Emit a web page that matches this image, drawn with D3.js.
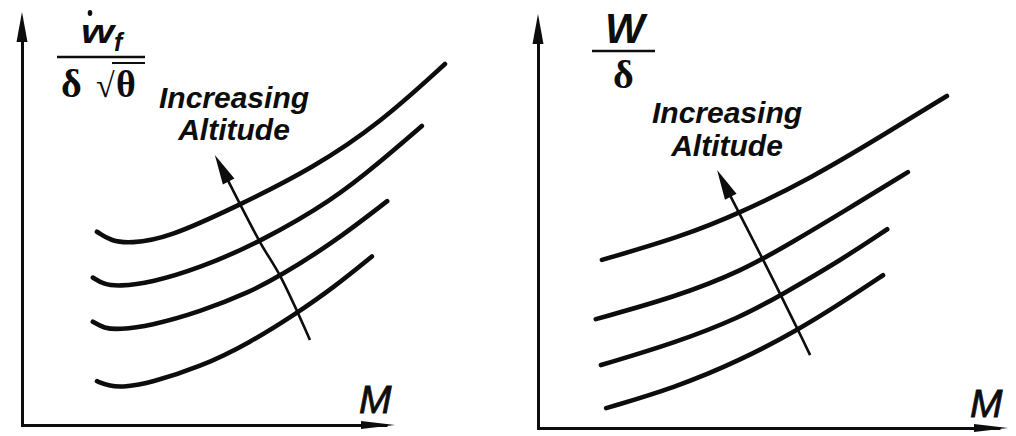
<!DOCTYPE html>
<html><head><meta charset="utf-8">
<script src="https://cdn.jsdelivr.net/npm/d3@7/dist/d3.min.js"></script>
<style>body{margin:0;background:#fff}svg{display:block}</style>
</head><body>
<svg id="c" width="1016" height="436"></svg>
<script>
// ---- data (abstract units: M along x, normalised parameter along y) ----
// Left panel: corrected fuel flow vs Mach, four altitudes (lowest first)
const fuelAlt1 = [[2.01,1.06],[2.35,0.94],[2.75,0.92],[3.43,1.02],[4.77,1.40],[6.11,1.99],[7.37,2.71],[8.34,3.32],[9.38,4.08]];
const fuelAlt2 = [[1.90,2.50],[2.20,2.34],[2.60,2.31],[3.43,2.40],[4.77,2.74],[6.11,3.22],[6.92,3.61],[8.34,4.41],[9.79,5.42]];
const fuelAlt3 = [[1.90,3.57],[2.20,3.40],[2.60,3.36],[3.43,3.44],[4.77,3.80],[6.38,4.43],[8.34,5.45],[9.60,6.37],[10.72,7.24]];
const fuelAlt4 = [[2.01,4.68],[2.40,4.45],[2.90,4.40],[3.89,4.52],[5.84,5.33],[7.80,6.22],[9.60,7.31],[11.34,8.74]];
const fuelArrow = [[7.72,2.06],[6.92,3.61],[6.38,4.43],[5.17,6.54]];
// Right panel: corrected weight vs Mach, four altitudes (lowest first)
const weightAlt1 = [[1.45,0.48],[2.91,0.97],[4.32,1.64],[5.53,2.37],[6.45,3.02],[7.34,3.69]];
const weightAlt2 = [[1.34,1.52],[2.91,2.05],[4.32,2.68],[5.17,3.21],[6.45,4.06],[7.43,4.80]];
const weightAlt3 = [[1.23,2.63],[2.91,3.16],[4.32,3.78],[5.40,4.48],[6.49,5.22],[7.87,6.18]];
const weightAlt4 = [[1.36,4.06],[3.02,4.61],[4.30,5.19],[5.85,6.06],[7.28,7.03],[8.70,8.02]];
const weightArrow = [[5.79,1.76],[5.53,2.37],[4.79,4.06],[3.81,6.23]];
const annotation = ["Increasing", "Altitude"];
const xLabel = "M";

// ---- drawing ----
const svg = d3.select("#c");
svg.append("rect").attr("width",1016).attr("height",436).attr("fill","#fff");
const ink = "#0d0d0d";

const panels = [
  {x: d3.scaleLinear().domain([0,12]).range([22, 22+12*37.3]),
   y: d3.scaleLinear().domain([0,10]).range([425, 12]),
   axisEnd: 10, curves:[fuelAlt1,fuelAlt2,fuelAlt3,fuelAlt4], arrow: fuelArrow,
   textX: 234, textY: [108,140], mPos:[359,413]},
  {x: d3.scaleLinear().domain([0,10]).range([538, 1008]),
   y: d3.scaleLinear().domain([0,10]).range([428, 14]),
   axisEnd: 10, curves:[weightAlt1,weightAlt2,weightAlt3,weightAlt4], arrow: weightArrow,
   textX: 727, textY: [123,156], mPos:[970,417]}
];

function tri(g, tip, ang, len, w){
  const bx = tip[0] - Math.cos(ang)*len, by = tip[1] - Math.sin(ang)*len;
  const px = -Math.sin(ang)*w/2, py = Math.cos(ang)*w/2;
  g.append("path").attr("d", `M${tip[0]},${tip[1]}L${bx+px},${by+py}L${bx-px},${by-py}Z`).attr("fill", ink);
}

panels.forEach(p => {
  const g = svg.append("g");
  const x0 = p.x(0), y0 = p.y(0), xEnd = p.x(p.axisEnd), yEnd = p.y(10);
  // axes via d3 axis generators (no ticks)
  const ax = p.x.copy().domain([0, p.axisEnd*0.97]).range([x0-1.5, xEnd-8]);
  const ay = p.y.copy().domain([0, 9.7]).range([y0+1.5, yEnd+12]);
  g.append("g").attr("transform",`translate(0,${y0})`)
    .call(d3.axisBottom(ax).tickValues([]).tickSizeOuter(0))
    .select(".domain").attr("stroke",ink).attr("stroke-width",3);
  g.append("g").attr("transform",`translate(${x0},0)`)
    .call(d3.axisLeft(ay).tickValues([]).tickSizeOuter(0))
    .select(".domain").attr("stroke",ink).attr("stroke-width",3);
  tri(g, [xEnd, y0], 0, 34, 8);
  tri(g, [x0, yEnd], -Math.PI/2, 30, 11);

  const line = d3.line().x(d=>p.x(d[0])).y(d=>p.y(d[1])).curve(d3.curveBasis);
  g.selectAll("path.curve").data(p.curves).join("path").attr("class","curve")
    .attr("d", line).attr("fill","none").attr("stroke",ink)
    .attr("stroke-width",4.6).attr("stroke-linecap","round");

  // altitude arrow
  const a = p.arrow, n = a.length;
  const tip = [p.x(a[n-1][0]), p.y(a[n-1][1])];
  const prev = [p.x(a[n-2][0]), p.y(a[n-2][1])];
  const ang = Math.atan2(tip[1]-prev[1], tip[0]-prev[0]);
  const aline = d3.line().x(d=>p.x(d[0])).y(d=>p.y(d[1])).curve(d3.curveCatmullRom.alpha(0.5));
  const shortened = a.slice(0, n-1).concat([[p.x.invert(tip[0]-Math.cos(ang)*20), p.y.invert(tip[1]-Math.sin(ang)*20)]]);
  g.append("path").attr("d", aline(shortened)).attr("fill","none").attr("stroke",ink).attr("stroke-width",2.6);
  tri(g, tip, ang, 30, 13);

  // annotation
  annotation.forEach((t,i)=>{
    g.append("text").attr("x",p.textX).attr("y",p.textY[i]).attr("text-anchor","middle")
     .attr("font-family","Liberation Sans, Arial, sans-serif").attr("font-style","italic")
     .attr("font-weight","bold").attr("font-size",30).attr("fill",ink).text(t);
  });
  g.append("text").attr("x",p.mPos[0]).attr("y",p.mPos[1])
   .attr("font-family","Liberation Sans, Arial, sans-serif").attr("font-style","italic")
   .attr("font-size",39).attr("stroke",ink).attr("stroke-width",0.8).attr("fill",ink).text(xLabel);
});

// ---- y-axis labels (fractions) ----
const sans = "Liberation Sans, Arial, sans-serif", serif = "Liberation Serif, Times New Roman, serif";
// left: w-dot sub f over delta sqrt theta
svg.append("text").attr("x",81).attr("y",43).attr("font-family",sans).attr("font-style","italic")
  .attr("font-weight","bold").attr("font-size",33).attr("textLength",33).attr("lengthAdjust","spacingAndGlyphs")
  .attr("fill",ink).text("w");
svg.append("ellipse").attr("cx",90).attr("cy",13).attr("rx",2.3).attr("ry",3).attr("fill",ink);
svg.append("text").attr("x",114).attr("y",51).attr("font-family",sans).attr("font-style","italic")
  .attr("font-weight","bold").attr("font-size",25).attr("fill",ink).text("f");
svg.append("line").attr("x1",57).attr("x2",145).attr("y1",57).attr("y2",57).attr("stroke",ink).attr("stroke-width",2.5);
svg.append("text").attr("x",61).attr("y",97).attr("font-family",serif).attr("font-weight","bold")
  .attr("font-size",40).attr("fill",ink).text("δ");
svg.append("text").attr("x",96).attr("y",97).attr("font-family",serif)
  .attr("font-size",34).attr("fill",ink).text("√");
svg.append("text").attr("x",116).attr("y",97).attr("font-family",serif).attr("font-weight","bold")
  .attr("font-size",38).attr("fill",ink).text("θ");
svg.append("line").attr("x1",112).attr("x2",145).attr("y1",63).attr("y2",63).attr("stroke",ink).attr("stroke-width",2);
// right: W over delta
svg.append("text").attr("x",605).attr("y",43).attr("font-family",sans).attr("font-style","italic")
  .attr("font-weight","bold").attr("font-size",42).attr("fill",ink).text("W");
svg.append("line").attr("x1",592).attr("x2",655).attr("y1",51).attr("y2",51).attr("stroke",ink).attr("stroke-width",2.5);
svg.append("text").attr("x",613).attr("y",88).attr("font-family",serif).attr("font-weight","bold")
  .attr("font-size",40).attr("fill",ink).text("δ");
</script>
</body></html>
